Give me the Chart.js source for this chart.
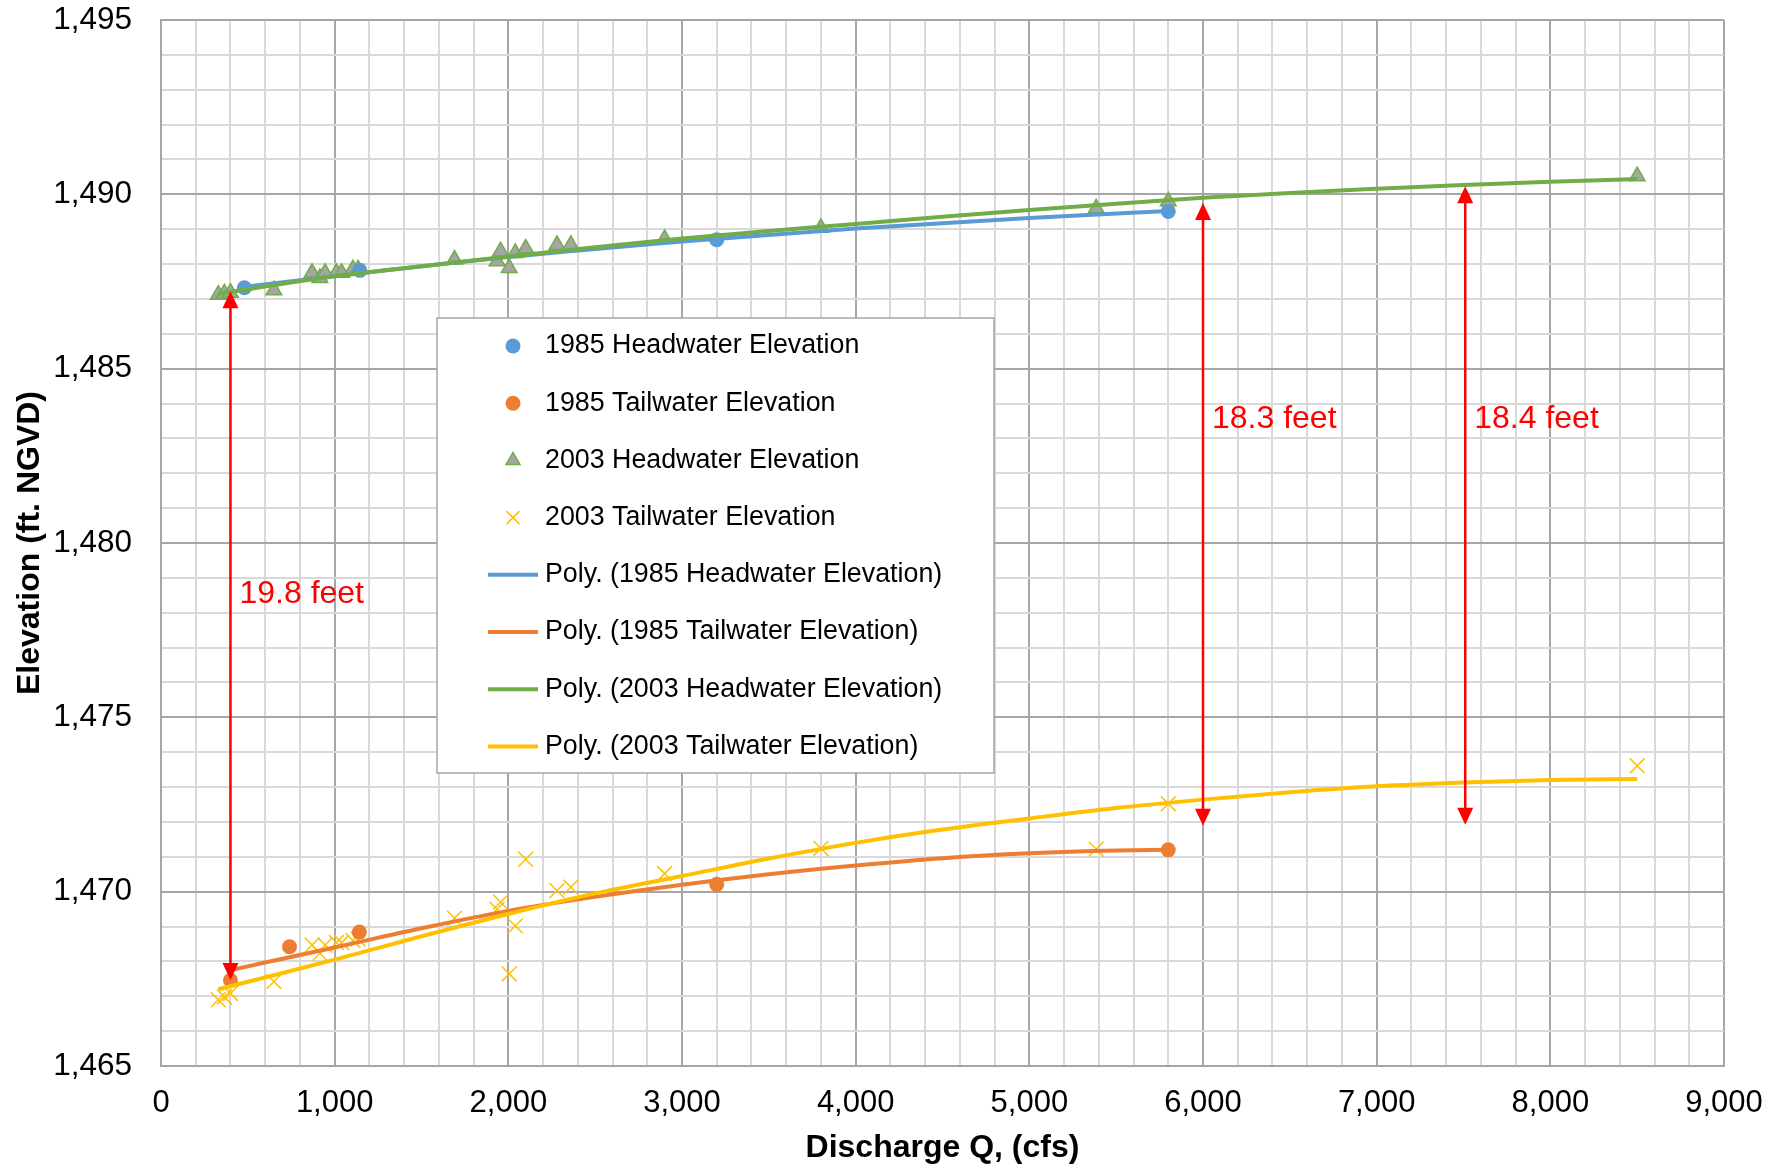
<!DOCTYPE html>
<html>
<head>
<meta charset="utf-8">
<title>Headwater / Tailwater Elevation vs Discharge</title>
<script src="https://cdn.jsdelivr.net/npm/chart.js@4.4.1/dist/chart.umd.min.js"></script>
<style>
  html, body { margin: 0; padding: 0; background: #fff; }
  #wrap { width: 1787px; height: 1170px; position: relative; }
</style>
</head>
<body>
<div id="wrap"><canvas id="chart"></canvas></div>
<script>
// measured points (discharge cfs, elevation ft NGVD)
const q1985Head = [480, 1145, 3200, 5800];
const elev1985Head = [1487.32, 1487.82, 1488.70, 1489.51];
const q1985Tail = [400, 740, 1142, 3200, 5800];
const elev1985Tail = [1467.46, 1468.42, 1468.84, 1470.21, 1471.20];
const q2003 = [330, 365, 400, 650, 870, 915, 945, 1010, 1040, 1105, 1135, 1690, 1935, 1955, 2005, 2040, 2100, 2280, 2360, 2900, 3800, 5385, 5800, 8500];
const elev2003Head = [1487.12, 1487.16, 1487.18, 1487.25, 1487.75, 1487.60, 1487.75, 1487.75, 1487.75, 1487.85, 1487.85, 1488.13, 1488.08, 1488.37, 1487.89, 1488.32, 1488.45, 1488.55, 1488.55, 1488.72, 1489.04, 1489.60, 1489.80, 1490.52];
const elev2003Tail = [1466.90, 1466.98, 1467.08, 1467.42, 1468.47, 1468.23, 1468.47, 1468.54, 1468.54, 1468.60, 1468.64, 1469.24, 1469.50, 1469.70, 1467.64, 1469.02, 1470.93, 1470.03, 1470.13, 1470.52, 1471.24, 1471.22, 1472.52, 1473.61];

// polynomial trendlines
const trendQ1985Head = [480, 1000, 2000, 3000, 4000, 5000, 5800];
const trend1985Head = [1487.35, 1487.65, 1488.20, 1488.65, 1489.02, 1489.32, 1489.52];
const trendQ1985Tail = [400, 1000, 1500, 2000, 2500, 3000, 3500, 4000, 4500, 5000, 5500, 5800];
const trend1985Tail = [1467.75, 1468.40, 1468.95, 1469.45, 1469.85, 1470.20, 1470.50, 1470.75, 1470.96, 1471.10, 1471.18, 1471.20];
const trendQ2003 = [330, 1000, 1500, 2000, 2500, 3000, 3500, 4000, 4500, 5000, 5500, 6000, 6500, 7000, 7500, 8000, 8500];
const trend2003Head = [1487.15, 1487.65, 1487.94, 1488.22, 1488.48, 1488.73, 1488.95, 1489.15, 1489.36, 1489.55, 1489.73, 1489.90, 1490.04, 1490.16, 1490.27, 1490.36, 1490.44];
const trend2003Tail = [1467.20, 1468.05, 1468.72, 1469.36, 1469.95, 1470.45, 1470.95, 1471.40, 1471.78, 1472.10, 1472.40, 1472.64, 1472.85, 1473.02, 1473.13, 1473.20, 1473.23];

// head difference arrows
const arrowQ = [400, 6000, 7510];
const arrowLow = [1467.47, 1471.89, 1471.92];
const arrowHigh = [1487.22, 1489.75, 1490.23];
const arrowText = ['19.8 feet', '18.3 feet', '18.4 feet'];
const arrowTextElev = [1478.52, 1483.56, 1483.56];

const FONT = '"Liberation Sans", Arial, sans-serif';
const pts = (xs, ys) => xs.map((x, i) => ({x, y: ys[i]}));

const C = {blue:'#5B9BD5', orange:'#ED7D31', green:'#70AD47', gray:'#A5A5A5', yellow:'#FFC000'};

const markerDs = (label, data, style) => Object.assign({label, data, showLine:false, order:2}, style);
const trendDs = (label, data, color, order) => ({
  label, data, showLine:true, borderColor:color, backgroundColor:color, borderWidth:4,
  pointRadius:0, pointHoverRadius:0, cubicInterpolationMode:'monotone', order, isTrend:true
});

const datasets = [
  markerDs('1985 Headwater Elevation', pts(q1985Head, elev1985Head),
    {pointStyle:'circle', pointRadius:7.5, backgroundColor:C.blue, borderColor:C.blue, borderWidth:0}),
  markerDs('1985 Tailwater Elevation', pts(q1985Tail, elev1985Tail),
    {pointStyle:'circle', pointRadius:7.5, backgroundColor:C.orange, borderColor:C.orange, borderWidth:0}),
  markerDs('2003 Headwater Elevation', pts(q2003, elev2003Head),
    {pointStyle:'triangle', pointRadius:9, backgroundColor:C.gray, borderColor:C.green, borderWidth:1.5}),
  markerDs('2003 Tailwater Elevation', pts(q2003, elev2003Tail),
    {pointStyle:'crossRot', pointRadius:10.5, backgroundColor:C.yellow, borderColor:C.yellow, borderWidth:1.5}),
  trendDs('Poly. (1985 Headwater Elevation)', pts(trendQ1985Head, trend1985Head), C.blue, 1),
  trendDs('Poly. (1985 Tailwater Elevation)', pts(trendQ1985Tail, trend1985Tail), C.orange, 1),
  trendDs('Poly. (2003 Headwater Elevation)', pts(trendQ2003, trend2003Head), C.green, 0),
  trendDs('Poly. (2003 Tailwater Elevation)', pts(trendQ2003, trend2003Tail), C.yellow, 0)
];

// red double-headed arrows with labels
const arrowPlugin = {
  id:'arrows',
  afterDatasetsDraw(chart){
    const {ctx, scales:{x, y}} = chart;
    ctx.save();
    ctx.strokeStyle = '#FF0000'; ctx.fillStyle = '#FF0000'; ctx.lineWidth = 2.5;
    const hl = 17, hw = 8;
    arrowQ.forEach((q, i) => {
      const px = x.getPixelForValue(q), top = y.getPixelForValue(arrowHigh[i]), bot = y.getPixelForValue(arrowLow[i]);
      ctx.beginPath(); ctx.moveTo(px, top + hl - 2); ctx.lineTo(px, bot - hl + 2); ctx.stroke();
      ctx.beginPath(); ctx.moveTo(px, top); ctx.lineTo(px - hw, top + hl); ctx.lineTo(px + hw, top + hl); ctx.closePath(); ctx.fill();
      ctx.beginPath(); ctx.moveTo(px, bot); ctx.lineTo(px - hw, bot - hl); ctx.lineTo(px + hw, bot - hl); ctx.closePath(); ctx.fill();
      ctx.font = '32px ' + FONT; ctx.textAlign = 'left'; ctx.textBaseline = 'middle';
      ctx.fillText(arrowText[i], px + 9, y.getPixelForValue(arrowTextElev[i]));
    });
    ctx.restore();
  }
};

// legend box inside the plot area
const legendPlugin = {
  id:'boxLegend',
  afterDatasetsDraw(chart){
    const ctx = chart.ctx;
    const bx = 437, by = 318, bw = 557, bh = 455, row0 = 346, step = 57.2, mx = 513, tx = 545;
    ctx.save();
    ctx.fillStyle = '#fff'; ctx.fillRect(bx, by, bw, bh);
    ctx.strokeStyle = '#A6A6A6'; ctx.lineWidth = 1.5; ctx.strokeRect(bx, by, bw, bh);
    chart.data.datasets.forEach((ds, i) => {
      const cy = row0 + i * step;
      ctx.strokeStyle = ds.borderColor; ctx.fillStyle = ds.backgroundColor;
      if (ds.isTrend) {
        ctx.lineWidth = 4; ctx.beginPath(); ctx.moveTo(mx - 25, cy); ctx.lineTo(mx + 25, cy); ctx.stroke();
      } else if (ds.pointStyle === 'circle') {
        ctx.beginPath(); ctx.arc(mx, cy, 7.5, 0, Math.PI * 2); ctx.fill();
      } else if (ds.pointStyle === 'triangle') {
        const r = 8;
        ctx.lineWidth = 1.5; ctx.beginPath();
        ctx.moveTo(mx, cy - r); ctx.lineTo(mx + r * 0.87, cy + r * 0.5); ctx.lineTo(mx - r * 0.87, cy + r * 0.5); ctx.closePath();
        ctx.fill(); ctx.stroke();
      } else {
        const d = 6.5;
        ctx.lineWidth = 1.5; ctx.beginPath();
        ctx.moveTo(mx - d, cy - d); ctx.lineTo(mx + d, cy + d); ctx.moveTo(mx + d, cy - d); ctx.lineTo(mx - d, cy + d); ctx.stroke();
      }
      ctx.fillStyle = '#000'; ctx.font = '26.8px ' + FONT; ctx.textAlign = 'left'; ctx.textBaseline = 'middle';
      ctx.fillText(ds.label, tx, cy);
    });
    ctx.restore();
  }
};

const gridColor = major => ctx => (ctx.tick && Math.abs(ctx.tick.value % major) < 1e-6) ? '#A6A6A6' : '#D9D9D9';

new Chart(document.getElementById('chart'), {
  type:'scatter',
  data:{datasets},
  plugins:[arrowPlugin, legendPlugin],
  options:{
    responsive:true, maintainAspectRatio:false, animation:false,
    layout:{padding:{top:20, right:63, left:0, bottom:0}},
    plugins:{legend:{display:false}, tooltip:{enabled:false}},
    scales:{
      x:{
        type:'linear', min:0, max:9000,
        afterFit: s => { s.height = 104; s.paddingLeft = 0; s.paddingRight = 0; },
        ticks:{stepSize:200, autoSkip:false, maxRotation:0, padding:19, color:'#000',
          font:{family:FONT, size:31},
          callback: v => v % 1000 === 0 ? v.toLocaleString('en-US') : ''},
        grid:{color:gridColor(1000), lineWidth:2, drawTicks:false},
        border:{color:'#A6A6A6', width:2},
        title:{display:true, text:'Discharge Q, (cfs)', color:'#000',
          font:{family:FONT, size:32, weight:'bold'}, padding:{top:0, bottom:3}}
      },
      y:{
        type:'linear', min:1465, max:1495,
        afterFit: s => { s.width = 161; s.paddingTop = 0; s.paddingBottom = 0; },
        ticks:{stepSize:1, autoSkip:false, padding:29, color:'#000',
          font:{family:FONT, size:31.5},
          callback: v => v % 5 === 0 ? v.toLocaleString('en-US') : ''},
        grid:{color:gridColor(5), lineWidth:2, drawTicks:false},
        border:{color:'#A6A6A6', width:2},
        title:{display:true, text:'Elevation (ft. NGVD)', color:'#000',
          font:{family:FONT, size:32, weight:'bold'}, padding:{top:11, bottom:0}}
      }
    }
  }
});
</script>
</body>
</html>
